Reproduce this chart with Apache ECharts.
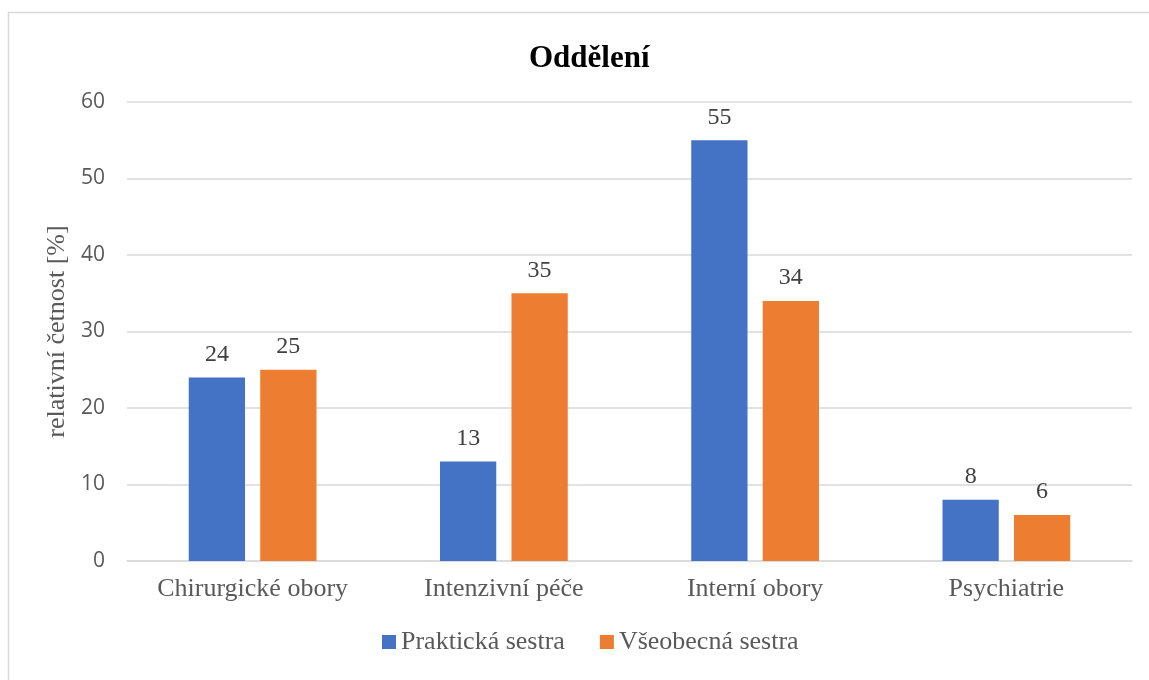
<!DOCTYPE html>
<html>
<head>
<meta charset="utf-8">
<script src="https://cdn.jsdelivr.net/npm/echarts@6/dist/echarts.min.js"></script>
<style>
  html, body { margin: 0; padding: 0; background: #fff; }
  #chart { width: 1149px; height: 680px; }
</style>
</head>
<body>
<div id="chart"></div>
<script>
// Department distribution by nurse qualification
const categories = ['Chirurgické obory', 'Intenzivní péče', 'Interní obory', 'Psychiatrie'];
const praktickaSestra = [24, 13, 55, 8];
const vseobecnaSestra = [25, 35, 34, 6];
const yTicks = [0, 10, 20, 30, 40, 50, 60];

const serif = '"Liberation Serif", "Times New Roman", serif';
const sans = '"Open Sans", "Noto Sans", sans-serif';

const chart = echarts.init(document.getElementById('chart'));

const labelStyle = {
  show: true,
  position: 'top',
  distance: 11,
  fontFamily: serif,
  fontSize: 24,
  color: '#404040'
};

chart.setOption({
  animation: false,
  graphic: [{
    type: 'rect',
    shape: { x: 8.5, y: 12.5, width: 1160, height: 700 },
    style: { fill: 'none', stroke: '#d9d9d9', lineWidth: 1.5 },
    silent: true
  }],
  title: {
    text: 'Oddělení',
    left: 524,
    top: 38,
    textStyle: { fontFamily: serif, fontWeight: 'bold', fontSize: 31, color: '#000' }
  },
  legend: {
    bottom: 20,
    left: 377,
    itemWidth: 14,
    itemHeight: 14,
    itemGap: 35,
    icon: 'rect',
    textStyle: { fontFamily: serif, fontSize: 26, color: '#595959' },
    data: ['Praktická sestra', 'Všeobecná sestra']
  },
  grid: { left: 127, right: 17, top: 102, bottom: 119 },
  xAxis: {
    type: 'category',
    data: categories,
    axisTick: { show: false },
    axisLine: { show: true, lineStyle: { color: '#d9d9d9', width: 1.5 } },
    axisLabel: { fontFamily: serif, fontSize: 26, color: '#595959', margin: 15 }
  },
  yAxis: {
    type: 'value',
    min: yTicks[0],
    max: yTicks[yTicks.length - 1],
    interval: 10,
    name: 'relativní četnost [%]',
    nameLocation: 'middle',
    nameGap: 55,
    nameTextStyle: { fontFamily: serif, fontSize: 26, color: '#595959' },
    axisLine: { show: false },
    axisTick: { show: false },
    axisLabel: { fontFamily: sans, fontSize: 21, color: '#595959', margin: 22 },
    splitLine: { lineStyle: { color: '#d9d9d9', width: 1.5 } }
  },
  series: [
    {
      name: 'Praktická sestra',
      type: 'bar',
      data: praktickaSestra,
      barWidth: '22.4%',
      barGap: '27%',
      itemStyle: { color: '#4472c4' },
      label: labelStyle
    },
    {
      name: 'Všeobecná sestra',
      type: 'bar',
      data: vseobecnaSestra,
      barWidth: '22.4%',
      barGap: '27%',
      itemStyle: { color: '#ed7d31' },
      label: labelStyle
    }
  ]
});
</script>
</body>
</html>
